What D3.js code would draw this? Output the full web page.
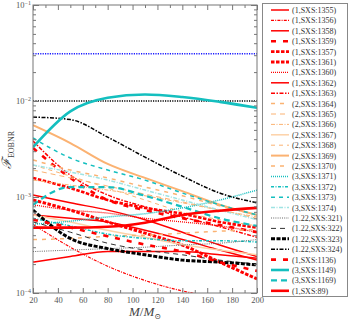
<!DOCTYPE html>
<html>
<head>
<meta charset="utf-8">
<script src="https://cdn.jsdelivr.net/npm/d3@7"></script>
<style>
  body { margin: 0; background: #fff; }
  text { font-family: "Liberation Serif", "DejaVu Serif", serif; }
</style>
</head>
<body>
<div id="chart"></div>
<script>
// total mass grid (M / M_sun) the curves are sampled on
const masses = [20, 50, 80, 110, 140, 170, 200];

// unfaithfulness values, one array per run
const s1355 = [0.00021, 0.00024, 0.00027, 0.00027, 0.00027, 0.00025, 0.00023];
const s1356 = [0.00052, 0.0003, 0.00019, 0.000135, 0.000105, 0.00009, 0.00008];
const s1358 = [0.00105, 0.00087, 0.00073, 0.00058, 0.00043, 0.000316, 0.00024];
const s1359 = [0.00324, 0.00158, 0.00093, 0.00073, 0.0006, 0.00051, 0.00043];
const s1357 = [0.00158, 0.00124, 0.00093, 0.00077, 0.00067, 0.00055, 0.00048];
const s1361 = [0.00093, 0.00073, 0.00055, 0.00042, 0.000316, 0.00021, 0.00014];
const s1360 = [0.00083, 0.00073, 0.00068, 0.0006, 0.00055, 0.0005, 0.00043];
const s1362 = [0.00065, 0.0006, 0.00055, 0.00045, 0.00036, 0.00028, 0.00022];
const s1363 = [0.00383, 0.00169, 0.00105, 0.00079, 0.00062, 0.00049, 0.00038];
const s1364 = [0.00243, 0.00191, 0.00158, 0.00127, 0.00103, 0.00081, 0.00065];
const s1365 = [0.00191, 0.00158, 0.0013, 0.00107, 0.00089, 0.00073, 0.0006];
const s1366 = [0.0015, 0.00133, 0.00118, 0.00103, 0.00087, 0.00073, 0.00062];
const s1367 = [0.00065, 0.00055, 0.00045, 0.00038, 0.00032, 0.00028, 0.00025];
const s1368 = [0.00215, 0.00165, 0.00124, 0.00093, 0.0007, 0.00058, 0.0005];
const s1369 = [0.0056, 0.00365, 0.00221, 0.00158, 0.00115, 0.00083, 0.00065];
const s1370 = [0.00036, 0.00037, 0.00039, 0.0004, 0.00042, 0.00044, 0.00046];
const s1371 = [0.00052, 0.00056, 0.00062, 0.00067, 0.00077, 0.00093, 0.00118];
const s1372 = [0.0006, 0.0005, 0.00041, 0.00037, 0.00035, 0.00035, 0.00034];
const s1373 = [0.00412, 0.00255, 0.00191, 0.0015, 0.0011, 0.00083, 0.00065];
const s1374 = [0.00215, 0.00182, 0.0015, 0.00118, 0.00093, 0.00073, 0.00058];
const s321 = [0.00027, 0.00028, 0.00029, 0.0003, 0.000316, 0.00033, 0.00036];
const s322 = [0.00055, 0.00043, 0.00033, 0.00028, 0.00025, 0.00022, 0.0002];
const s323 = [0.00073, 0.00037, 0.00029, 0.00025, 0.00022, 0.00021, 0.000196];
const s324 = [0.0068, 0.0064, 0.0042, 0.0026, 0.00165, 0.0011, 0.00087];
const s1136 = [0.00058, 0.00048, 0.00039, 0.00032, 0.00027, 0.00021, 0.00017];
const s1149 = [0.0033, 0.0078, 0.0108, 0.0117, 0.011, 0.0098, 0.0085];
const s1169 = [0.00083, 0.00127, 0.00127, 0.00103, 0.00079, 0.0006, 0.0005];
const s89 = [0.00048, 0.00048, 0.00049, 0.00054, 0.00065, 0.00072, 0.00077];

// horizontal reference levels
const refLevels = [0.031, 0.01];

const xTicks = [20, 40, 60, 80, 100, 120, 140, 160, 180, 200];
const yTicks = [1e-4, 1e-3, 1e-2, 1e-1];
const yTickExp = ["−4", "−3", "−2", "−1"];

const RED = "#ff0000", ORG = "#fbb272", ORG2 = "#fdd2a8", CY = "#14bfbf", CY2 = "#9ee3e3";

// label, values, colour, width, dash
const series = [
  ["(1,SXS:1355)", s1355, RED, 1.5, null],
  ["(1,SXS:1356)", s1356, RED, 1.2, "3,1.2,1,1.2"],
  ["(1,SXS:1358)", s1358, RED, 1.5, null],
  ["(1,SXS:1359)", s1359, RED, 2.6, "5,7"],
  ["(1,SXS:1357)", s1357, RED, 2.6, "3.5,1.5"],
  ["(1,SXS:1361)", s1361, RED, 3, "3.5,1.5"],
  ["(1,SXS:1360)", s1360, RED, 1.3, "1,1"],
  ["(1,SXS:1362)", s1362, RED, 1.5, null],
  ["(1,SXS:1363)", s1363, RED, 1.5, "4,1.5,1.5,1.5"],
  ["(2,SXS:1364)", s1364, ORG, 1.5, "4,5"],
  ["(2,SXS:1365)", s1365, ORG, 1, "5,4"],
  ["(2,SXS:1366)", s1366, ORG, 1, "4,1.5,1,1.5"],
  ["(2,SXS:1367)", s1367, ORG2, 1.5, null],
  ["(2,SXS:1368)", s1368, ORG, 1, "4,4"],
  ["(2,SXS:1369)", s1369, ORG, 2, null],
  ["(2,SXS:1370)", s1370, ORG, 1.5, "4,5"],
  ["(3,SXS:1371)", s1371, CY, 1.5, "1,1"],
  ["(3,SXS:1372)", s1372, CY, 1.5, "3,1.5,1,1.5"],
  ["(3,SXS:1373)", s1373, CY, 1.5, "4,4"],
  ["(3,SXS:1374)", s1374, CY2, 1.5, "4,1.5,1,1.5"],
  ["(1.22,SXS:321)", s321, "#555", 0.9, "1,1.2"],
  ["(1.22,SXS:322)", s322, "#333", 1, "5,4"],
  ["(1.22,SXS:323)", s323, "#000", 3, "4,1.5"],
  ["(1.22,SXS:324)", s324, "#000", 1.5, "4,1.5,1.5,1.5"],
  ["(1,SXS:1136)", s1136, RED, 2.6, "5,7"],
  ["(3,SXS:1149)", s1149, CY, 2.6, null],
  ["(3,SXS:1169)", s1169, CY, 2.2, "6,4"],
  ["(1,SXS:89)", s89, RED, 2.6, null]
];

const W = 349, H = 320;
const margin = { top: 5, left: 33 };
const pw = 224, ph = 288;

const svg = d3.select("#chart").append("svg")
  .attr("width", W).attr("height", H);

const x = d3.scaleLinear().domain([20, 200]).range([0, pw]);
const y = d3.scaleLog().domain([1e-4, 1e-1]).range([ph, 0]);

const g = svg.append("g").attr("transform", `translate(${margin.left},${margin.top})`);

g.append("clipPath").attr("id", "clip")
  .append("rect").attr("width", pw).attr("height", ph);

const plot = g.append("g").attr("clip-path", "url(#clip)");

// reference levels
plot.selectAll(".ref").data(refLevels).enter().append("line")
  .attr("x1", 0).attr("x2", pw)
  .attr("y1", d => y(d)).attr("y2", d => y(d))
  .attr("stroke", (d, i) => i === 0 ? "#1a1aff" : "#000")
  .attr("stroke-width", 1.5)
  .attr("stroke-dasharray", "1.2,1.2");

const line = d3.line()
  .x((d, i) => x(masses[i]))
  .y(d => y(d))
  .curve(d3.curveMonotoneX);

plot.selectAll(".run").data(series).enter().append("path")
  .attr("class", "run")
  .attr("d", d => line(d[1]))
  .attr("fill", "none")
  .attr("stroke", d => d[2])
  .attr("stroke-width", d => d[3])
  .attr("stroke-dasharray", d => d[4]);

// minor log ticks
const minor = [];
[1e-4, 1e-3, 1e-2].forEach(dec => { for (let k = 2; k <= 9; k++) minor.push(dec * k); });

const axisCol = "#777";
function styleAxis(sel) {
  sel.select(".domain").remove();
  sel.selectAll("line").attr("stroke", axisCol);
  sel.selectAll("text").attr("fill", "#555").style("font-size", "8.5px")
    .style("font-family", "'Liberation Serif', serif");
}

// bottom / top
g.append("g").attr("transform", `translate(0,${ph})`)
  .call(d3.axisBottom(x).tickValues(xTicks).tickSize(-5).tickPadding(4).tickFormat(d3.format("d")))
  .call(styleAxis);
g.append("g").attr("transform", `translate(0,${ph})`)
  .call(d3.axisBottom(x).tickValues(d3.range(30, 200, 20)).tickSize(-3).tickFormat(""))
  .call(styleAxis);
g.append("g")
  .call(d3.axisTop(x).tickValues(xTicks).tickSize(-5).tickFormat(""))
  .call(styleAxis);
g.append("g")
  .call(d3.axisTop(x).tickValues(d3.range(30, 200, 20)).tickSize(-3).tickFormat(""))
  .call(styleAxis);

// left / right
g.append("g")
  .call(d3.axisLeft(y).tickValues(yTicks).tickSize(-6).tickFormat(""))
  .call(styleAxis);
g.append("g")
  .call(d3.axisLeft(y).tickValues(minor).tickSize(-3).tickFormat(""))
  .call(styleAxis);
g.append("g").attr("transform", `translate(${pw},0)`)
  .call(d3.axisRight(y).tickValues(yTicks).tickSize(-6).tickFormat(""))
  .call(styleAxis);
g.append("g").attr("transform", `translate(${pw},0)`)
  .call(d3.axisRight(y).tickValues(minor).tickSize(-3).tickFormat(""))
  .call(styleAxis);

const ylab = g.selectAll(".ylab").data(yTicks).enter().append("text")
  .attr("x", -2).attr("y", d => y(d) + 3)
  .attr("text-anchor", "end")
  .attr("fill", "#555").style("font-size", "8.5px");
ylab.append("tspan").text("10");
ylab.append("tspan").attr("dy", -3.5).style("font-size", "6px").text((d, i) => yTickExp[i]);

g.append("rect").attr("width", pw).attr("height", ph)
  .attr("fill", "none").attr("stroke", axisCol).attr("stroke-width", 1);

// axis titles
const xt = svg.append("text").attr("x", 145).attr("y", 316)
  .attr("text-anchor", "middle").attr("fill", "#444").style("font-size", "13px");
xt.append("tspan").style("font-style", "italic").text("M");
xt.append("tspan").text("/");
xt.append("tspan").style("font-style", "italic").text("M");
xt.append("tspan").attr("dy", 3).style("font-size", "8px").text("⊙");

const yt = svg.append("text").attr("transform", "translate(11,150) rotate(-90)")
  .attr("text-anchor", "middle").attr("fill", "#444").style("font-size", "13px");
yt.append("tspan").style("font-style", "italic").text("ℱ");
yt.append("tspan").attr("dy", 3).style("font-size", "8px").text("EOBNR");

// legend
const lg = svg.append("g");
lg.append("rect").attr("x", 262.5).attr("y", 3.5).attr("width", 85).attr("height", 293)
  .attr("fill", "#fff").attr("stroke", "#888").attr("stroke-width", 1);

const item = lg.selectAll(".item").data(series).enter().append("g")
  .attr("transform", (d, i) => `translate(0,${10 + i * 10.4})`);
item.append("line")
  .attr("x1", 271).attr("x2", 289)
  .attr("stroke", d => d[2])
  .attr("stroke-width", d => d[3])
  .attr("stroke-dasharray", d => d[4]);
item.append("text")
  .attr("x", 292).attr("y", 3)
  .attr("fill", "#333").style("font-size", "8px")
  .text(d => d[0]);
</script>
</body>
</html>
